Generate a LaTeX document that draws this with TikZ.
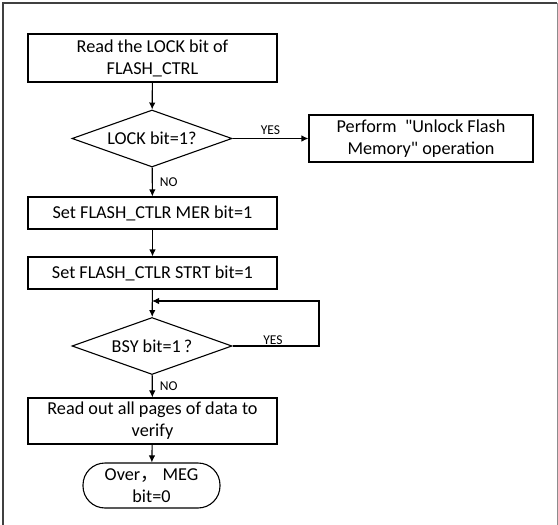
\documentclass[tikz,border=0pt]{standalone}
\usepackage{fontspec}
\setmainfont{Carlito}[Ligatures=TeXOff]
\newfontfamily\cjk{Noto Sans CJK SC}
\usetikzlibrary{shapes.geometric,arrows.meta}
\begin{document}
\begin{tikzpicture}[x=1pt,y=-1pt,
  every node/.style={font=\fontsize{18.2}{22}\selectfont, align=center, inner sep=0pt},
  procbox/.style={draw, line width=1.1pt, minimum width=249pt},
  decide/.style={draw, line width=1.1pt, diamond, aspect=2.8, minimum width=160pt, minimum height=57pt},
  termbox/.style={draw, line width=1.1pt, rounded corners=22pt, minimum width=137pt, minimum height=45pt},
  flow/.style={line width=1.1pt, -{Latex[length=7pt,width=6.5pt]}},
  lbl/.style={font=\fontsize{13.5}{15}\selectfont}
]
\useasboundingbox (0,0) rectangle (558,525);
% frame
\draw[line width=1.2pt, black!75] (3,527) -- (3,3) -- (557,3);
\draw[line width=1pt, black!45] (557,3) -- (557,527);

\node[procbox, minimum height=48pt] (b1) at (152.5,58) {Read the LOCK bit of\\FLASH\_CTRL};
\node[decide] (d1) at (152,138.5) {LOCK bit=1?};
\node[procbox, minimum width=224pt, minimum height=47pt] (unl) at (421,138.5) {Perform \ "Unlock Flash\\Memory" operation};
\node[procbox, minimum height=32pt] (b2) at (152.5,213) {Set FLASH\_CTLR MER bit=1};
\node[procbox, minimum height=32pt] (b3) at (152.5,273) {Set FLASH\_CTLR STRT bit=1};
\node[decide] (d2) at (152,346) {BSY bit=1\,?};
\node[procbox, minimum height=46pt] (b4) at (152.5,421) {Read out all pages of data to\\verify};
\node[termbox] (t) at (151.5,485.5) {Over{\cjk ，} MEG\\bit=0};

\coordinate (j) at (152,301);
\coordinate (r1) at (319,346);
\coordinate (r2) at (319,301);

\draw[flow] (b1) -- (d1);
\draw[flow] (d1) -- (unl) node[lbl, pos=0.5, above=3pt] {YES};
\draw[flow] (d1) -- (b2) node[lbl, pos=0.5, right=7pt] {NO};
\draw[flow] (b2) -- (b3);
\draw[flow] (b3) -- (d2);
\draw[flow] (d2.east) -- (r1) -- (r2) -- (j);
\node[lbl] (yes2) at (273,340) {YES};
\draw[flow] (d2) -- (b4) node[lbl, pos=0.5, right=7pt] {NO};
\draw[flow] (b4) -- (t);
\end{tikzpicture}
\end{document}
